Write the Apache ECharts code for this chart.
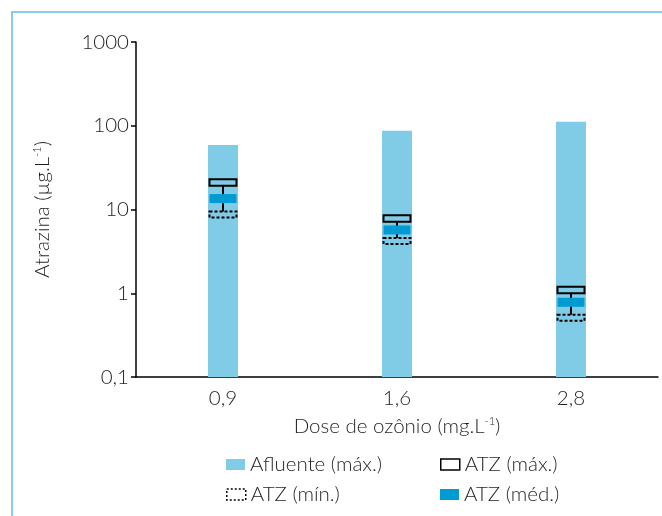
<!DOCTYPE html>
<html>
<head>
<meta charset="utf-8">
<script src="https://cdn.jsdelivr.net/npm/echarts@6/dist/echarts.min.js"></script>
<style>
  html, body { margin: 0; padding: 0; background: #fff; }
  #chart { width: 662px; height: 516px; }
</style>
</head>
<body>
<div id="chart"></div>
<script>
// doses de ozônio (eixo x)
const categories = ['0,9', '1,6', '2,8']
// concentrações de atrazina (µg/L)
const afluenteMax = [59, 87, 112]
const atzMax = [21, 7.8, 1.09]
const atzMed = [13.5, 5.7, 0.78]
const atzMin = [8.7, 4.2, 0.51]
const yTicks = [0.1, 1, 10, 100, 1000]

const FONT = 'Lato'
const FS = 20.5
const TXT = '#231f20'
const C_AFL = '#80cce7'
const C_MED = '#009bd2'

const chart = echarts.init(document.getElementById('chart'))

// caixinha horizontal centrada no valor
const boxAt = (api, value, h) => {
  const p = api.coord([api.value(0), value])
  return { x: p[0] - 13.5, y: p[1] - h / 2, width: 27, height: h }
}

const textBase = { fontFamily: FONT, fontWeight: 300, fontSize: FS, color: TXT }
const supRich = { sup: { fontFamily: FONT, fontWeight: 300, fontSize: 11, color: TXT, verticalAlign: 'top', padding: [0, 0, 9, 0] } }

const legendBase = {
  orient: 'horizontal',
  selectedMode: false,
  itemWidth: 19,
  itemHeight: 11,
  textStyle: textBase
}

const option = {
  animation: false,
  backgroundColor: '#fff',
  graphic: [{
    type: 'polyline',
    shape: { points: [[12, 530], [12, 12], [680, 12]] },
    style: { stroke: '#62bde3', lineWidth: 1.5, fill: null }
  }],
  grid: { left: 136, top: 42, width: 522, bottom: 139 },
  legend: [
    { ...legendBase, left: 221, top: 449, data: [{ name: 'Afluente (máx.)', icon: 'rect', itemStyle: { color: C_AFL } }] },
    { ...legendBase, left: 435, top: 449, data: [{ name: 'ATZ (máx.)', icon: 'rect', itemStyle: { color: 'rgba(0,0,0,0)', borderColor: '#000', borderWidth: 1.5 } }] },
    { ...legendBase, left: 221, top: 479, data: [{ name: 'ATZ (mín.)', icon: 'rect', itemStyle: { color: 'rgba(0,0,0,0)', borderColor: '#000', borderWidth: 1.5, borderType: [2, 2] } }] },
    { ...legendBase, left: 435, top: 479, data: [{ name: 'ATZ (méd.)', icon: 'rect', itemStyle: { color: C_MED } }] }
  ],
  xAxis: {
    type: 'category',
    data: categories,
    name: 'Dose de ozônio (mg.L{sup|-1})',
    nameLocation: 'middle',
    nameGap: 39,
    nameTextStyle: { ...textBase, rich: supRich },
    axisLine: { lineStyle: { color: '#000', width: 1.5 } },
    axisTick: { alignWithLabel: true, length: 6, lineStyle: { color: '#000', width: 1.5 } },
    axisLabel: { ...textBase, margin: 11 }
  },
  yAxis: {
    type: 'log',
    logBase: 10,
    min: 0.1,
    max: 1000,
    name: 'Atrazina (µg.L{sup|-1})',
    nameLocation: 'middle',
    nameGap: 83,
    nameTextStyle: { ...textBase, rich: supRich },
    axisLine: { show: true, lineStyle: { color: '#000', width: 1.5 } },
    axisTick: { show: true, length: 5, lineStyle: { color: '#000', width: 1.5 } },
    splitLine: { show: false },
    minorTick: { show: false },
    axisLabel: {
      ...textBase, margin: 7,
      customValues: yTicks,
      formatter: v => String(v).replace('.', ',')
    }
  },
  series: [
    {
      name: 'Afluente (máx.)',
      type: 'custom',
      data: afluenteMax.map((v, i) => [i, v]),
      encode: { x: 0, y: 1 },
      renderItem: (params, api) => {
        const top = api.coord([api.value(0), api.value(1)])
        const base = api.coord([api.value(0), 0.1])
        return { type: 'rect', shape: { x: top[0] - 15, y: top[1], width: 30, height: base[1] - top[1] }, style: { fill: C_AFL } }
      }
    },
    {
      // haste entre máx. e mín.
      name: 'haste',
      type: 'custom',
      data: atzMax.map((v, i) => [i, v, atzMin[i]]),
      encode: { x: 0, y: [1, 2] },
      renderItem: (params, api) => {
        const a = api.coord([api.value(0), api.value(1)])
        const b = api.coord([api.value(0), api.value(2)])
        return { type: 'line', shape: { x1: a[0], y1: a[1] + 3, x2: b[0], y2: b[1] - 3 }, style: { stroke: '#000', lineWidth: 2 } }
      }
    },
    {
      name: 'ATZ (máx.)',
      type: 'custom',
      data: atzMax.map((v, i) => [i, v]),
      encode: { x: 0, y: 1 },
      renderItem: (params, api) => ({
        type: 'rect', shape: boxAt(api, api.value(1), 6.5),
        style: { fill: null, stroke: '#000', lineWidth: 2 }
      })
    },
    {
      name: 'ATZ (mín.)',
      type: 'custom',
      data: atzMin.map((v, i) => [i, v]),
      encode: { x: 0, y: 1 },
      renderItem: (params, api) => ({
        type: 'rect', shape: boxAt(api, api.value(1), 6),
        style: { fill: null, stroke: '#000', lineWidth: 2, lineDash: [3, 2] }
      })
    },
    {
      name: 'ATZ (méd.)',
      type: 'custom',
      data: atzMed.map((v, i) => [i, v]),
      encode: { x: 0, y: 1 },
      renderItem: (params, api) => ({
        type: 'rect', shape: boxAt(api, api.value(1), 9),
        style: { fill: C_MED }
      })
    }
  ]
}

chart.setOption(option)
</script>
</body>
</html>
